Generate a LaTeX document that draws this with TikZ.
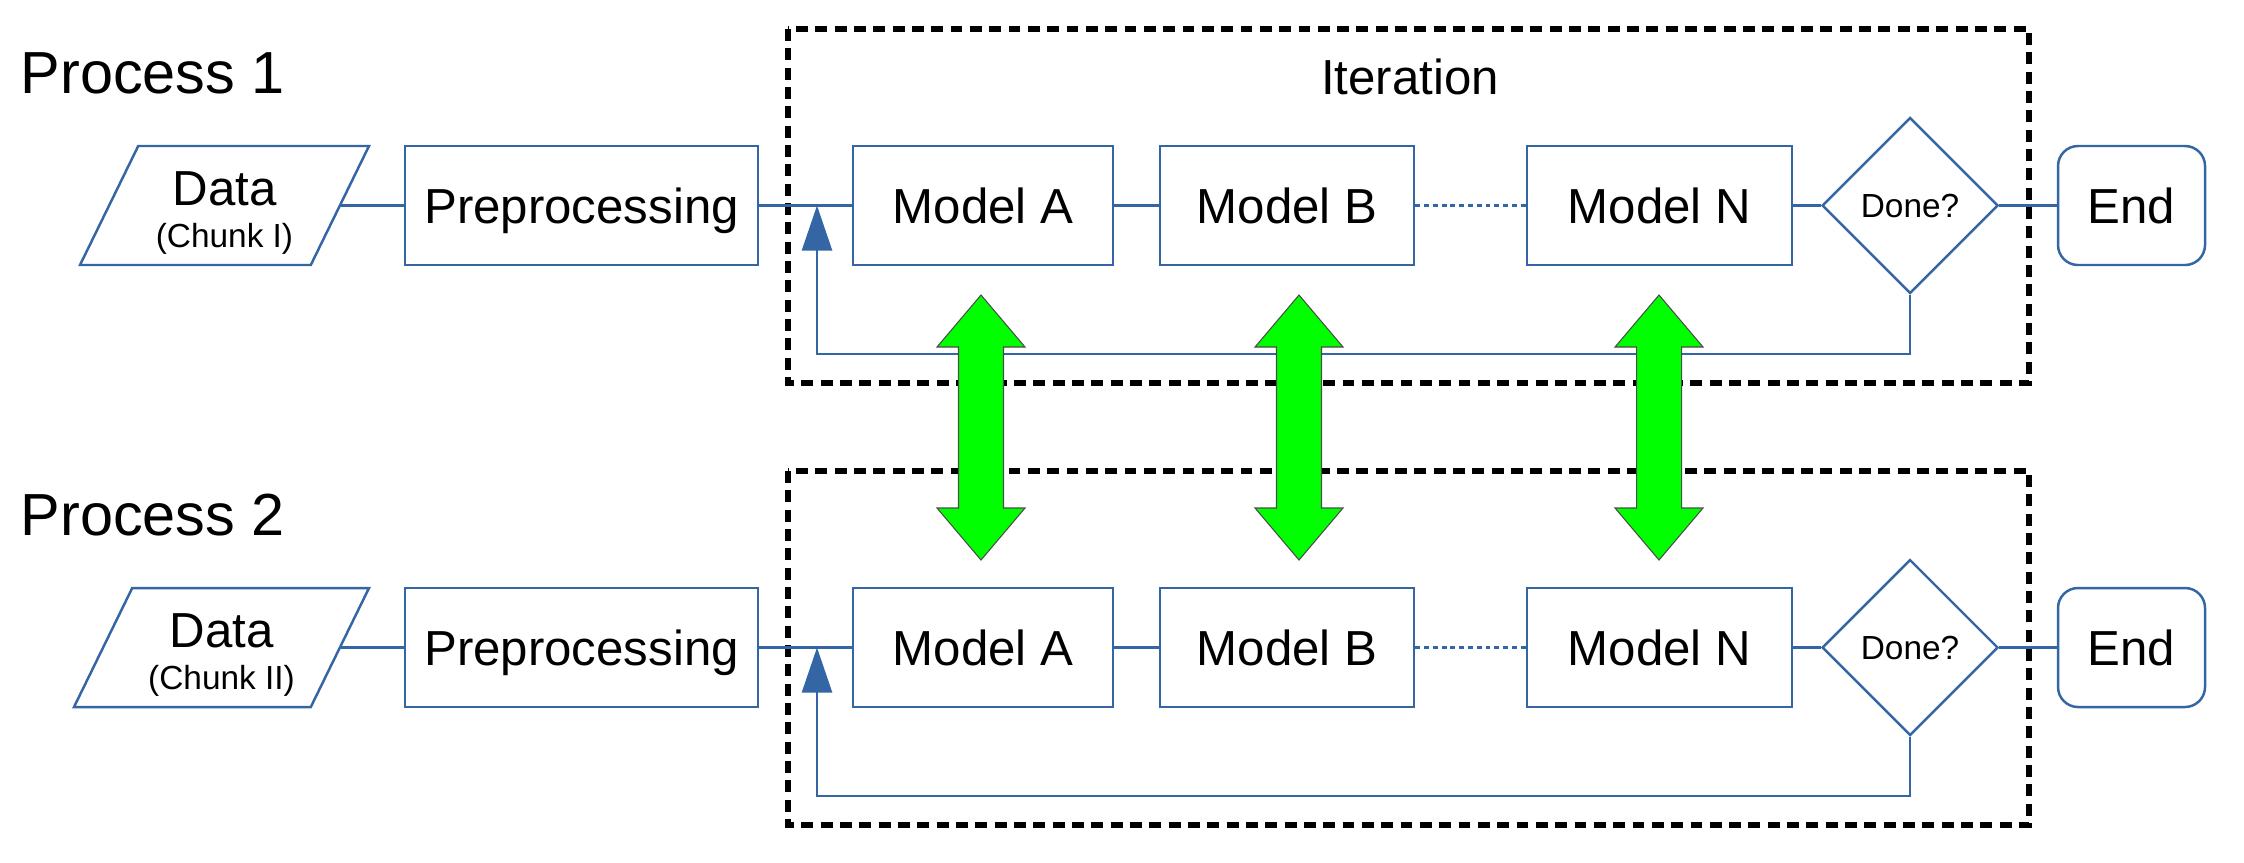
\documentclass[tikz,border=0pt]{standalone}
\usepackage{fontspec}
\setmainfont{Liberation Sans}
\usepackage{tikz}
\usetikzlibrary{positioning, arrows.meta, calc, shapes.geometric}
\definecolor{flowblue}{RGB}{52,101,164}
\definecolor{swapgreen}{RGB}{0,255,0}

\begin{document}
\begin{tikzpicture}[
    every node/.style={font=\fontsize{14}{16}\selectfont},
    link/.style={draw=flowblue, line width=0.7pt},
    shapebox/.style={link, fill=white, inner sep=0pt, minimum height=1.19cm},
    proc/.style={shapebox, text height=10pt, text depth=0pt},
    datain/.style={shapebox, trapezium, trapezium left angle=59, trapezium right angle=121,
                   trapezium stretches body, align=center},
    decide/.style={link, fill=white, diamond, inner sep=0pt, aspect=1,
                   minimum width=1.76cm, minimum height=1.76cm,
                   font=\fontsize{9.5}{11}\selectfont},
    term/.style={proc, rounded corners=0.2cm, minimum width=1.47cm},
    iterbox/.style={draw=black, line width=1.5pt, dash pattern=on 3.4pt off 2.1pt},
    plabel/.style={anchor=west, inner sep=0pt, font=\fontsize{16.9}{18}\selectfont},
    back/.style={link, -{Triangle[length=4.5mm, width=3mm]}},
    exchange/.style={fill=swapgreen, draw=black!70, line width=0.3pt},
]
\useasboundingbox (0,0) rectangle (22.44,-8.62);

% --- Process 1 -------------------------------------------------------
\node[plabel] (p1) at (0.20,-0.73) {Process 1};
\draw[iterbox] (7.88,-0.29) rectangle (20.29,-3.83);
\node (it1) at (14.10,-0.77) {Iteration};

\node[datain, minimum width=2.89cm] (data1) at (2.245,-2.055)
    {\rule{0pt}{13.8pt}Data\\[-4.2pt]{\fontsize{9.5}{11}\selectfont (Chunk I)}};
\node[proc, minimum width=3.53cm] (prep1) at (5.815,-2.055) {Preprocessing};
\node[proc, minimum width=2.60cm] (ma1) at (9.83,-2.055) {Model A};
\node[proc, minimum width=2.54cm] (mb1) at (12.87,-2.055) {Model B};
\node[proc, minimum width=2.65cm] (mn1) at (16.595,-2.055) {Model N};
\node[decide] (done1) at (19.10,-2.055) {Done?};
\node[term] (end1) at (21.315,-2.055) {End};
\coordinate (join1) at (8.17,-2.055);

\draw[link] (data1.right side) -- (prep1);
\draw[link] (prep1) -- (ma1);
\draw[link] (ma1) -- (mb1);
\draw[link, dash pattern=on 1.4pt off 1.1pt] (mb1) -- (mn1);
\draw[link] (mn1) -- (done1);
\draw[link] (done1) -- (end1);
\draw[back] (done1.south) -- ++(0,-0.595) -| (join1);

% --- Process 2 -------------------------------------------------------
\node[plabel] (p2) at (0.20,-5.15) {Process 2};
\draw[iterbox] (7.88,-4.71) rectangle (20.29,-8.25);

\node[datain, minimum width=2.95cm] (data2) at (2.215,-6.475)
    {\rule{0pt}{13.8pt}Data\\[-4.2pt]{\fontsize{9.5}{11}\selectfont (Chunk II)}};
\node[proc, minimum width=3.53cm] (prep2) at (5.815,-6.475) {Preprocessing};
\node[proc, minimum width=2.60cm] (ma2) at (9.83,-6.475) {Model A};
\node[proc, minimum width=2.54cm] (mb2) at (12.87,-6.475) {Model B};
\node[proc, minimum width=2.65cm] (mn2) at (16.595,-6.475) {Model N};
\node[decide] (done2) at (19.10,-6.475) {Done?};
\node[term] (end2) at (21.315,-6.475) {End};
\coordinate (join2) at (8.17,-6.475);

\draw[link] (data2.right side) -- (prep2);
\draw[link] (prep2) -- (ma2);
\draw[link] (ma2) -- (mb2);
\draw[link, dash pattern=on 1.4pt off 1.1pt] (mb2) -- (mn2);
\draw[link] (mn2) -- (done2);
\draw[link] (done2) -- (end2);
\draw[back] (done2.south) -- ++(0,-0.595) -| (join2);

% --- Austausch zwischen den Prozessen (grüne Doppelpfeile) ----------
\foreach \x in {9.81, 12.99, 16.59}
    \draw[exchange] (\x,-2.95) -- ++(0.44,-0.52) -- ++(-0.215,0) -- ++(0,-1.61)
        -- ++(0.215,0) -- (\x,-5.60) -- ++(-0.44,0.52) -- ++(0.215,0)
        -- ++(0,1.61) -- ++(-0.215,0) -- cycle;

\end{tikzpicture}
\end{document}
